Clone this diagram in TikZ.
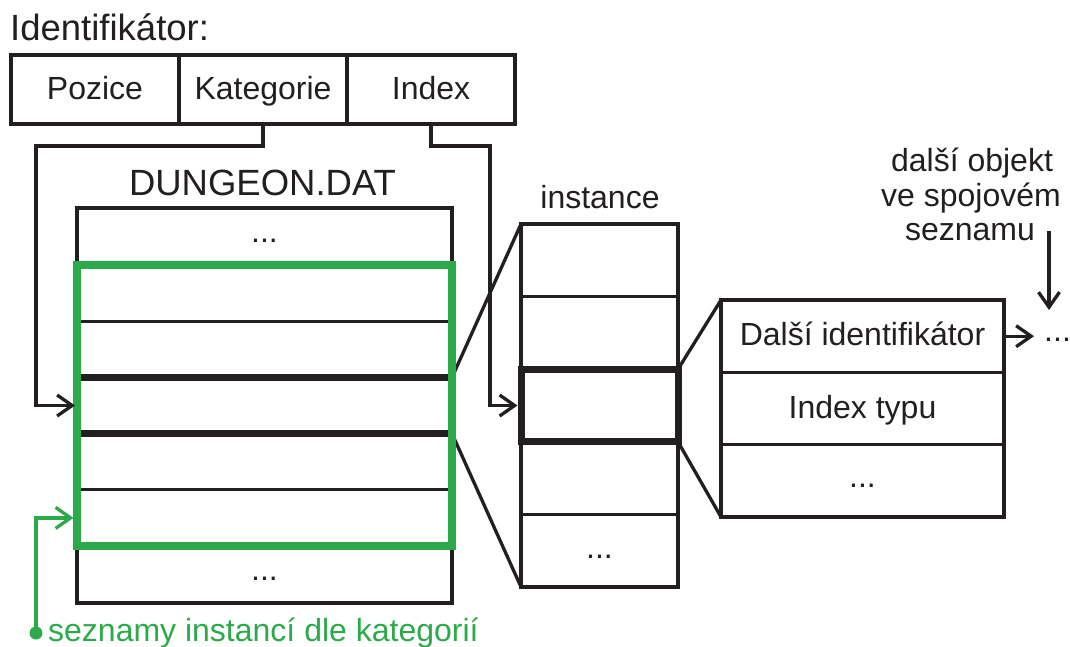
\documentclass[tikz,border=0pt]{standalone}
\usepackage{fontspec}
\setmainfont{Liberation Sans}
\usetikzlibrary{arrows.meta}
\definecolor{ink}{RGB}{35,31,32}
\definecolor{grn}{RGB}{44,170,74}
\newcommand\lblfont{\fontsize{32}{36}\selectfont}
\newcommand\hdfont{\fontsize{36.5}{40}\selectfont}
\begin{document}
\begin{tikzpicture}[x=1pt,y=-1pt,line join=miter]
\useasboundingbox (0,0) rectangle (1070,646);
\tikzset{
  box/.style={draw=ink, line width=3.3pt, inner sep=0pt, outer sep=0pt,
    text height=22pt, text depth=3pt, font=\lblfont, text=ink},
  idcell/.style={box, minimum width=168pt, minimum height=69pt},
  drow/.style={box, minimum width=375pt, minimum height=56.2pt},
  irow/.style={box, minimum width=157pt, minimum height=72.6pt},
  detrow/.style={box, minimum width=283pt, minimum height=72.33pt},
  conn/.style={draw=ink, line width=3.3pt, -{Straight Barb[length=15pt,width=21pt]}},
  gconn/.style={draw=grn, line width=3.3pt, -{Straight Barb[length=15pt,width=21pt]}},
  fan/.style={draw=ink, line width=3.3pt},
  dots/.style={font=\lblfont, text=ink, anchor=base, inner sep=0pt},
  lbl/.style={font=\lblfont, text=ink, inner sep=0pt},
  hdl/.style={font=\hdfont, text=ink, inner sep=0pt},
}
% identifier
\node[hdl, anchor=base west] (idt) at (10,40) {Identifikátor:};
\node[idcell] (poz) at (95,89.5) {Pozice};
\node[idcell] (kat) at (263,89.5) {Kategorie};
\node[idcell] (idx) at (431,89.5) {Index};

% DUNGEON.DAT
\node[hdl, anchor=base] (dtitle) at (262.5,195) {DUNGEON.DAT};
\node[box, minimum width=375pt, minimum height=395pt] (dng) at (264.5,405.5) {};
\node[dots] (dd0) at (264.5,242) {...};
\node[dots] (dd6) at (264.5,580) {...};
\node[drow] (r1) at (264.5,293.1) {};
\node[drow] (r2) at (264.5,349.3) {};
\node[drow] (r4) at (264.5,461.7) {};
\node[drow] (r5) at (264.5,517.9) {};
\node[drow, line width=7pt] (r3) at (264.5,405.5) {};

% instance column
\node[lbl, anchor=base] (itit) at (600,208) {instance};
\node[irow] (i0) at (599.5,260.3) {};
\node[irow] (i1) at (599.5,332.9) {};
\node[irow] (i3) at (599.5,478.1) {};
\node[irow] (i4) at (599.5,550.7) {};
\node[dots] (id4) at (599.5,558) {...};
\node[irow, line width=7pt] (i2) at (599.5,405.5) {};

% detail
\node[detrow] (d0) at (862.5,336.2) {Další identifikátor};
\node[detrow] (d1) at (862.5,408.5) {Index typu};
\node[detrow] (d2) at (862.5,480.8) {};
\node[dots] (dd2) at (862.5,487.5) {...};

% fans
\draw[fan] (r3.north east) -- (i0.north west);
\draw[fan] (r3.south east) -- (i4.south west);
\draw[fan] (i2.north east) -- (d0.north west);
\draw[fan] (i2.south east) -- (d2.south west);

% green group
\node[draw=grn, line width=7.5pt, inner sep=0pt, outer sep=0pt,
      minimum width=375pt, minimum height=281pt] (grp) at (264.5,405.5) {};

% connectors from identifier
\draw[conn, shorten >=2pt] (kat.south) -- ++(0,22) -| ([xshift=-41pt]r3.west) -- (r3.west);
\draw[conn, shorten >=3.5pt] (idx.south) -- ++(0,22) -| ([xshift=-31pt]i2.west) -- (i2.west);

% green label
\node[circle, fill=grn, minimum size=13pt, inner sep=0pt] (gdot) at (36,633) {};
\draw[gconn, shorten >=3.5pt] (gdot.center) |- (r5.west);
\node[lbl, text=grn, anchor=base west] (glbl) at (48,641) {seznamy instancí dle kategorií};

% next object
\node[dots, anchor=base west] (nxt) at (1044,341) {...};
\draw[conn, shorten >=10pt] (d0.east) -- (d0.east -| nxt.west);
\node[lbl, anchor=base] (ob1) at (972,171) {další objekt};
\node[lbl, anchor=base] (ob2) at (971,206) {ve spojovém};
\node[lbl, anchor=base] (ob3) at (970,240) {seznamu};
\coordinate (nstart) at (1049,231);
\coordinate (ntip) at (1049,310);
\draw[conn] (nstart) -- (ntip);
\end{tikzpicture}
\end{document}
